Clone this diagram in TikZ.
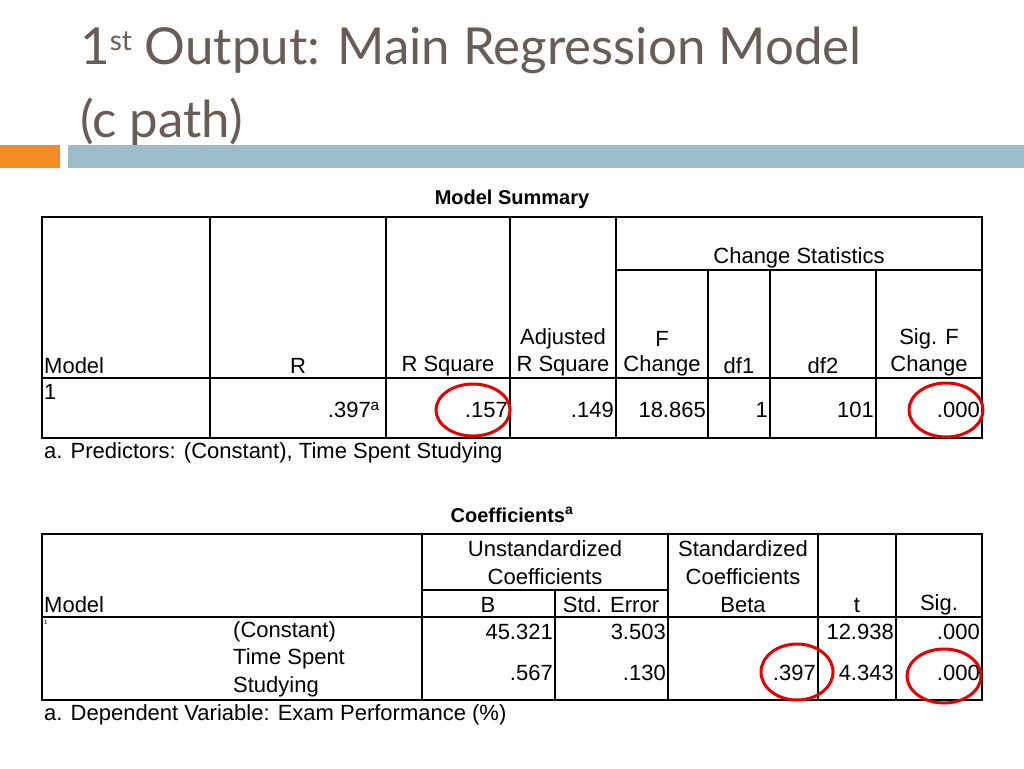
\documentclass[tikz,border=0pt]{standalone}
\usepackage{fontspec}
\setmainfont{Liberation Sans}
\newfontfamily\titlefont{Lato}
\definecolor{titlec}{RGB}{105,92,84}
\begin{document}
\begin{tikzpicture}[x=1pt,y=-1pt,
  cell/.style={font=\fontsize{22}{24}\selectfont,inner sep=0pt},
  grid/.style={line width=1.1pt}]
\useasboundingbox (0,0) rectangle (1024,768);
\fill[white] (0,0) rectangle (1024,768);
\node[anchor=west,text=titlec,font=\titlefont\fontsize{51}{56}\selectfont,inner sep=0pt] (t1) at (80,50) {1\raisebox{14pt}{\fontsize{28}{30}\selectfont st} Output: Main Regression Model};
\node[anchor=west,text=titlec,font=\titlefont\fontsize{51}{56}\selectfont,inner sep=0pt] (t2) at (80,122) {(c path)};
\fill[orange!80!brown!90] (0,145) rectangle (60,168);
\fill[blue!30!cyan!30!gray!60] (68,145) rectangle (1024,168);
% table 1
\node[cell,font=\bfseries\fontsize{20}{22}\selectfont] (ms) at (512,199) {Model Summary};
\draw[grid] (42,217) rectangle (982,438);
\foreach \x in {210,386,510,616} \draw[grid] (\x,217) -- (\x,438);
\foreach \x in {708,770,876} \draw[grid] (\x,270) -- (\x,438);
\draw[grid] (616,270) -- (982,270);
\draw[grid] (42,378) -- (982,378);
\node[cell] (cs) at (799,258) {Change Statistics};
\node[cell,anchor=west] (h1) at (44,366) {Model};
\node[cell] (h2) at (298,366) {R};
\node[cell] (h3) at (448,366) {R Square};
\node[cell] (h4) at (563,339) {Adjusted};
\node[cell] (h4b) at (563,366) {R Square};
\node[cell] (h5) at (662,339) {F};
\node[cell] (h5b) at (662,366) {Change};
\node[cell] (h6) at (739,366) {df1};
\node[cell] (h7) at (823,366) {df2};
\node[cell] (h8) at (929,339) {Sig. F};
\node[cell] (h8b) at (929,366) {Change};
\node[cell,anchor=west] (r0) at (44,392) {1};
\node[cell,anchor=east] (r1) at (380,410) {.397\textsuperscript{a}};
\node[cell,anchor=east] (r2) at (508,410) {.157};
\node[cell,anchor=east] (r3) at (614,410) {.149};
\node[cell,anchor=east] (r4) at (706,410) {18.865};
\node[cell,anchor=east] (r5) at (768,410) {1};
\node[cell,anchor=east] (r6) at (874,410) {101};
\node[cell,anchor=east] (r7) at (980,410) {.000};
\node[cell,anchor=west] (n1) at (44,453) {a. Predictors: (Constant), Time Spent Studying};
% table 2
\node[cell,font=\bfseries\fontsize{20}{22}\selectfont] (co) at (512,515) {Coefficients\textsuperscript{a}};
\draw[grid] (42,534) rectangle (982,700);
\foreach \x in {422,668,818,896} \draw[grid] (\x,534) -- (\x,700);
\draw[grid] (555,590) -- (555,700);
\draw[grid] (422,590) -- (668,590);
\draw[grid] (42,617) -- (982,617);
\node[cell] (u1) at (545,549) {Unstandardized};
\node[cell] (u2) at (545,577) {Coefficients};
\node[cell] (s1) at (743,549) {Standardized};
\node[cell] (s2) at (743,577) {Coefficients};
\node[cell,anchor=west] (m) at (44,605) {Model};
\node[cell] (b) at (488,605) {B};
\node[cell] (se) at (611,605) {Std. Error};
\node[cell] (be) at (743,605) {Beta};
\node[cell] (tt) at (857,605) {t};
\node[cell] (sg) at (939,605) {Sig.};
\node[cell,anchor=west,font=\fontsize{6}{7}\selectfont] (one) at (44,622) {1};
\node[cell,anchor=west] (c1) at (233,632) {(Constant)};
\node[cell,anchor=west] (c2) at (233,659) {Time Spent};
\node[cell,anchor=west] (c3) at (233,687) {Studying};
\node[cell,anchor=east] (v1) at (553,632) {45.321};
\node[cell,anchor=east] (v2) at (666,632) {3.503};
\node[cell,anchor=east] (v3) at (894,632) {12.938};
\node[cell,anchor=east] (v4) at (980,632) {.000};
\node[cell,anchor=east] (w1) at (553,673) {.567};
\node[cell,anchor=east] (w2) at (666,673) {.130};
\node[cell,anchor=east] (w3) at (816,673) {.397};
\node[cell,anchor=east] (w4) at (894,673) {4.343};
\node[cell,anchor=east] (w5) at (980,673) {.000};
\node[cell,anchor=west] (n2) at (44,715) {a. Dependent Variable: Exam Performance (\%)};
% circles
\draw[red!90!black,line width=3pt] (473,410) ellipse [x radius=37,y radius=26];
\draw[red!90!black,line width=3pt] (946,410) ellipse [x radius=37,y radius=27];
\draw[red!90!black,line width=3pt] (797,672) ellipse [x radius=36,y radius=28];
\draw[red!90!black,line width=3pt] (944,676) ellipse [x radius=37,y radius=27];
\end{tikzpicture}
\end{document}
